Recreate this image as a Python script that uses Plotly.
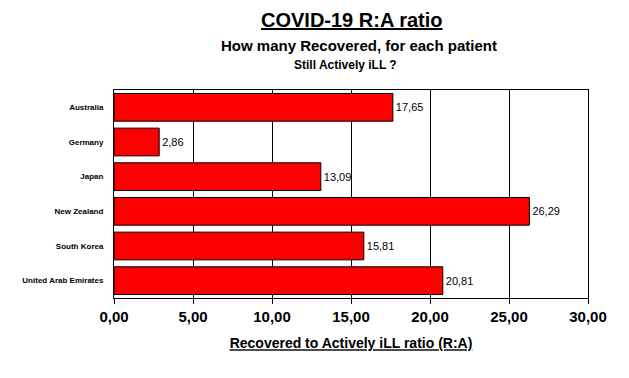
import plotly.graph_objects as go

countries = ["Australia", "Germany", "Japan", "New Zealand", "South Korea", "United Arab Emirates"]
ratios = [17.65, 2.86, 13.09, 26.29, 15.81, 20.81]
x_ticks = [0, 5, 10, 15, 20, 25, 30]

# page body has an 8px margin; figure sized so it fits the 629x378 window
W, H = 613, 362
ML, MR, MT, MB = 106, 33, 82, 72

fig = go.Figure(go.Bar(
    x=ratios, y=countries, orientation="h",
    marker=dict(color="#FF0000", line=dict(color="black", width=1)),
    texttemplate="%{x:.2f}", textposition="outside",
    textfont=dict(family="Arial, Liberation Sans", size=11, color="black"),
    cliponaxis=False,
))

fig.update_layout(
    width=W, height=H,
    margin=dict(l=ML, r=MR, t=MT, b=MB),
    paper_bgcolor="white", plot_bgcolor="white",
    separators=",.",
    bargap=0.2,
    showlegend=False,
    font=dict(family="Arial, Liberation Sans", color="black"),
    xaxis=dict(
        range=[0, 30], tickvals=x_ticks, tickformat=".2f",
        showgrid=True, gridcolor="black", gridwidth=1,
        showline=True, linecolor="black", linewidth=1, mirror=True,
        ticks="outside", ticklen=5, tickcolor="black",
        tickfont=dict(family="Arial, Liberation Sans", size=15, color="black", weight="bold"),
        zeroline=False,
        title=dict(text="<u>Recovered to Actively iLL ratio (R:A)</u>",
                   font=dict(family="Arial, Liberation Sans", size=14, color="black", weight="bold"),
                   standoff=14),
    ),
    yaxis=dict(
        autorange="reversed",
        showline=True, linecolor="black", linewidth=1, mirror=True,
        ticks="", ticklabelstandoff=8,
        tickfont=dict(family="Arial, Liberation Sans", size=8, color="black", weight="bold"),
    ),
)

plot_h = H - MT - MB
plot_w = W - ML - MR
def px(xp, yp):
    # xp, yp in window pixels
    xf, yf = xp - 8, yp - 8
    return (xf - ML) / plot_w, (H - MB - yf) / plot_h

t1 = px(352, 20); t2 = px(359, 45); t3 = px(345, 65)
fig.layout.annotations = [
    dict(text="<u>COVID-19 R:A ratio</u>", x=t1[0], y=t1[1], xref="paper", yref="paper",
         xanchor="center", yanchor="middle", showarrow=False,
         font=dict(family="Arial, Liberation Sans", size=20, weight="bold", color="black")),
    dict(text="How many Recovered, for each patient", x=t2[0], y=t2[1], xref="paper", yref="paper",
         xanchor="center", yanchor="middle", showarrow=False,
         font=dict(family="Arial, Liberation Sans", size=15, weight="bold", color="black")),
    dict(text="Still Actively iLL ?", x=t3[0], y=t3[1], xref="paper", yref="paper",
         xanchor="center", yanchor="middle", showarrow=False,
         font=dict(family="Arial, Liberation Sans", size=12, weight="bold", color="black")),
]

fig.write_html("out.html")
